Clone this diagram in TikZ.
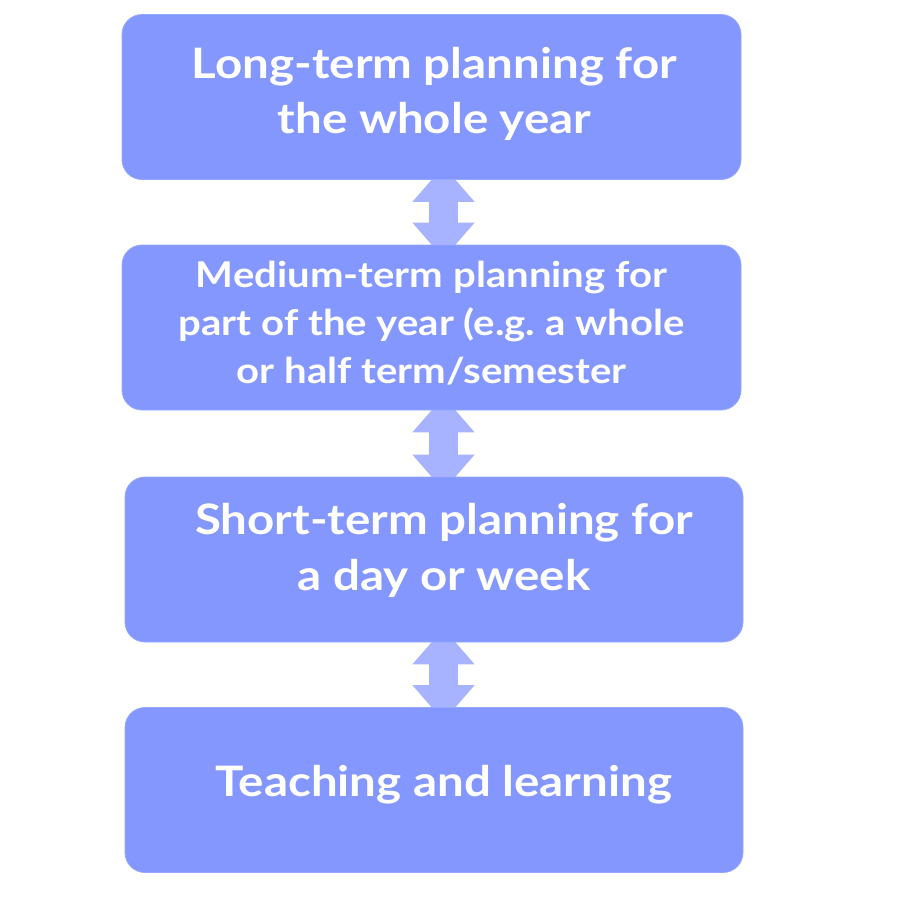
\documentclass[tikz,border=0pt]{standalone}
\usepackage{fontspec}
\setmainfont{Lato}[FakeStretch=1.13]
\usepackage{tikz}
\usetikzlibrary{positioning,calc,backgrounds,arrows.meta}
\definecolor{boxBlue}{RGB}{132, 151, 255}
\definecolor{arrowBlue}{RGB}{167, 179, 255}

\begin{document}
\begin{tikzpicture}[x=1pt,y=-1pt,
    planbox/.style={rounded corners=20pt,fill=boxBlue,draw=boxBlue!85!white,line width=0.8pt,
        minimum height=165pt,inner sep=0pt},
    plantext/.style={align=center,text=white,font=\bfseries},
    link/.style={draw=arrowBlue,line width=29pt,
        {Triangle[length=36pt,width=60pt]}-{Triangle[length=36pt,width=60pt]}}]
    \useasboundingbox (0,0) rectangle (923,900);

    % the four planning levels
    \node[planbox,minimum width=619pt] (b1) at (431.5,97) {};
    \node[planbox,minimum width=619pt] (b2) at (431.5,327.5) {};
    \node[planbox,minimum width=618pt] (b3) at (434,559.5) {};
    \node[planbox,minimum width=618pt] (b4) at (434,790) {};

    \node[plantext,font=\fontsize{42}{55}\selectfont\bfseries] (t1) at ($(b1.center)+(3,-3)$)
        {Long-term planning for\\the whole year};
    \node[plantext,font=\fontsize{35.5}{48}\selectfont\bfseries] (t2) at ($(b2.center)+(0,-4)$)
        {Medium-term planning for\\part of the year (e.g.\ a whole\\or half term/semester};
    \node[plantext,font=\fontsize{42}{56}\selectfont\bfseries] (t3) at ($(b3.center)+(10,-9)$)
        {Short-term planning for\\a day or week};
    \node[plantext,font=\fontsize{42}{56}\selectfont\bfseries] (t4) at ($(b4.center)+(10,-5)$)
        {Teaching and learning};

    % arrows behind the boxes
    \begin{scope}[on background layer]
        \draw[link] ($(b1.south)+(12,-14)$) -- ($(b2.north)+(12,14)$);
        \draw[link] ($(b2.south)+(12,-14)$) -- ($(b3.north)+(9.5,14)$);
        \draw[link] ($(b3.south)+(9.5,-14)$) -- ($(b4.north)+(9.5,14)$);
    \end{scope}
\end{tikzpicture}
\end{document}
